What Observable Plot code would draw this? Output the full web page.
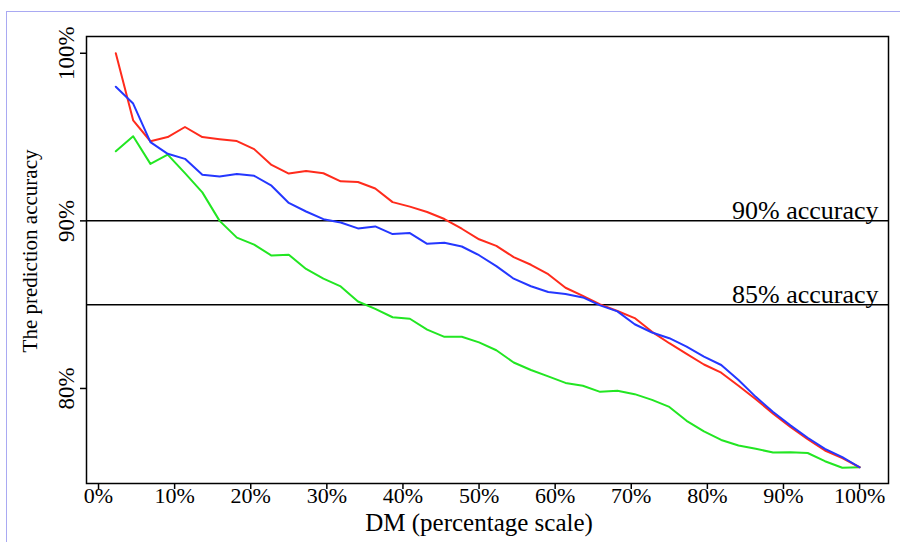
<!DOCTYPE html>
<html>
<head>
<meta charset="utf-8">
<script src="https://cdn.jsdelivr.net/npm/d3@7"></script>
<script src="https://cdn.jsdelivr.net/npm/@observablehq/plot@0.6"></script>
<style>
  html, body { margin: 0; padding: 0; background: white; }
  #wrap { position: relative; width: 900px; height: 542px; }
  #edge { position: absolute; left: 6px; top: 11px; right: 0; bottom: 0;
          border-top: 1px solid #a9a9f2; border-left: 1px solid #a9a9f2; pointer-events: none; }
</style>
</head>
<body>
<div id="wrap"><div id="edge"></div></div>
<script>
// DM share (percentage scale) at which each accuracy value is measured
const dmShare = [2.27, 4.55, 6.82, 9.09, 11.36, 13.64, 15.91, 18.18, 20.45, 22.73,
  25.00, 27.27, 29.55, 31.82, 34.09, 36.36, 38.64, 40.91, 43.18, 45.45,
  47.73, 50.00, 52.27, 54.55, 56.82, 59.09, 61.36, 63.64, 65.91, 68.18,
  70.45, 72.73, 75.00, 77.27, 79.55, 81.82, 84.09, 86.36, 88.64, 90.91,
  93.18, 95.45, 97.73, 100.00];

// prediction accuracy (%) — red series
const redSeries = [100.0, 96.0, 94.75, 95.0, 95.6, 95.0, 94.87, 94.76,
  94.28, 93.34, 92.82, 92.98, 92.84, 92.36, 92.32, 91.93,
  91.12, 90.85, 90.53, 90.11, 89.53, 88.9, 88.51, 87.84,
  87.38, 86.82, 86.01, 85.52, 85.02, 84.62, 84.2, 83.38, 82.7,
  82.07, 81.43, 80.94, 80.16, 79.36, 78.5, 77.7, 76.97, 76.3, 75.84, 75.3];

// prediction accuracy (%) — blue series
const blueSeries = [98.0, 97.0, 94.7, 94.0, 93.7, 92.75, 92.65, 92.8,
  92.69, 92.1, 91.07, 90.56, 90.1, 89.9, 89.55, 89.67,
  89.21, 89.27, 88.63, 88.7, 88.47, 87.95, 87.3, 86.55,
  86.1, 85.76, 85.64, 85.43, 84.96, 84.6, 83.83, 83.34, 83.0,
  82.5, 81.9, 81.4, 80.5, 79.5, 78.6, 77.8, 77.06, 76.4, 75.9, 75.3];

// prediction accuracy (%) — green series
const greenSeries = [94.15, 95.05, 93.4, 93.95, 92.85, 91.7, 90.0, 89.0,
  88.58, 87.93, 87.98, 87.13, 86.55, 86.09, 85.19, 84.75,
  84.25, 84.16, 83.51, 83.08, 83.09, 82.75, 82.28, 81.55,
  81.1, 80.72, 80.33, 80.16, 79.8, 79.86, 79.66, 79.32, 78.9,
  78.07, 77.44, 76.93, 76.6, 76.4, 76.18, 76.2, 76.15, 75.66, 75.27, 75.3];

const xTicks = [0, 10, 20, 30, 40, 50, 60, 70, 80, 90, 100];
const yTicks = [80, 90, 100];
const refLevels = [90, 85];
const refLabels = ["90% accuracy", "85% accuracy"];
const xTitle = "DM (percentage scale)";
const yTitle = "The prediction accuracy";

const toRows = (vals) => vals.map((v, i) => ({x: dmShare[i], y: v}));
const refRows = refLevels.map((v, i) => ({y: v, label: refLabels[i]}));

const chart = Plot.plot({
  width: 900,
  height: 542,
  marginLeft: 86,
  marginRight: 12,
  marginTop: 36,
  marginBottom: 59,
  style: {fontFamily: "'Liberation Serif', 'Times New Roman', serif", fontSize: "22px", color: "black", background: "transparent"},
  x: {domain: [-1.58, 103.8]},
  y: {domain: [74.33, 101.0]},
  marks: [
    Plot.ruleY(refLevels, {stroke: "black", strokeWidth: 1.5}),
    Plot.text(refRows, {y: "y", text: "label", frameAnchor: "right", textAnchor: "end", lineAnchor: "bottom", dx: -10, dy: -2, fontSize: 26}),
    Plot.line(toRows(greenSeries), {x: "x", y: "y", stroke: "#22e622", strokeWidth: 2}),
    Plot.line(toRows(redSeries), {x: "x", y: "y", stroke: "#ff2b1c", strokeWidth: 2}),
    Plot.line(toRows(blueSeries), {x: "x", y: "y", stroke: "#2437ff", strokeWidth: 2}),
    Plot.frame({stroke: "black", strokeWidth: 1.5}),
    Plot.axisX({ticks: xTicks, tickSize: 6, tickPadding: -2, tickFormat: d => d + "%", fontSize: 22, label: null, strokeWidth: 1.5}),
    Plot.axisY({ticks: yTicks, tickSize: 6, tickFormat: () => "", label: null, strokeWidth: 1.5}),
    Plot.text(yTicks, {y: d => d, text: d => d + "%", frameAnchor: "left", rotate: -90, dx: -13, textAnchor: "middle", lineAnchor: "bottom", fontSize: 23}),
    Plot.text([{x: 50, t: xTitle}], {x: "x", text: "t", frameAnchor: "bottom", textAnchor: "middle", dy: 47, fontSize: 25}),
    Plot.text([yTitle], {frameAnchor: "left", textAnchor: "middle", dx: -56, dy: -9, rotate: -90, fontSize: 21})
  ]
});
const wrap = document.getElementById("wrap");
chart.style.position = "absolute";
chart.style.left = "0";
chart.style.top = "0";
wrap.insertBefore(chart, wrap.firstChild);
</script>
</body>
</html>
